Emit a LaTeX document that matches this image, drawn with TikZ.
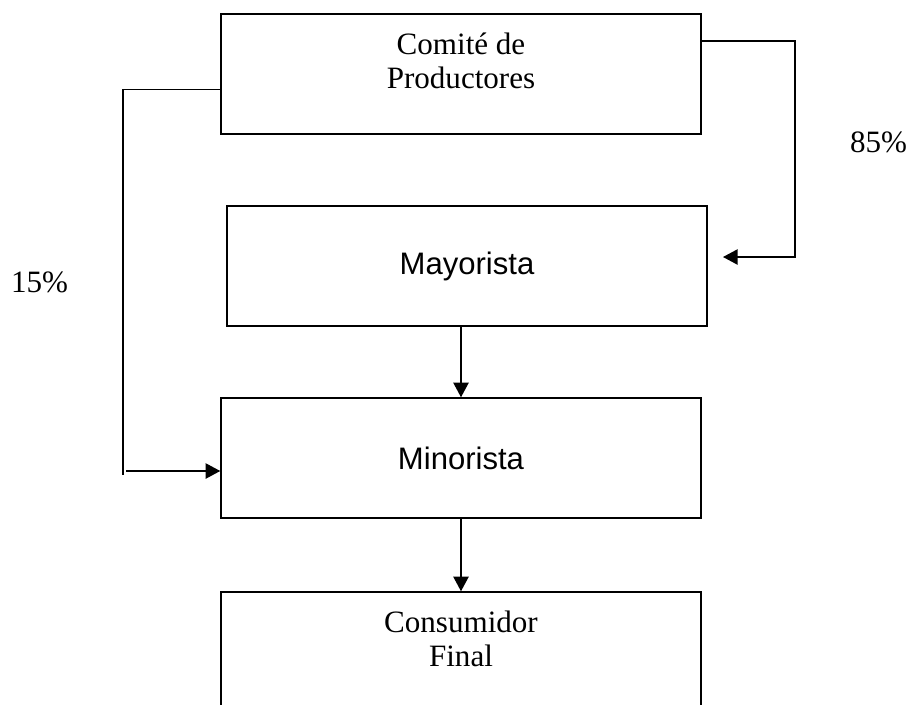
\documentclass[tikz,border=0pt]{standalone}
\usepackage{fontspec}
\setmainfont{Liberation Serif}
\setsansfont{Liberation Sans}
\usetikzlibrary{arrows.meta}
\tikzset{
  box/.style={draw,line width=1.1pt,minimum width=360pt,minimum height=90pt,inner sep=0pt},
  boxtxt/.style={font=\fontsize{23.3}{25.5}\selectfont,align=center},
  boxsans/.style={font=\sffamily\fontsize{23.3}{25.5}\selectfont},
}
\begin{document}
\begin{tikzpicture}[x=0.75pt,y=-0.75pt,>={Triangle[length=11pt,width=11.5pt]},line width=1.1pt]
%%
\useasboundingbox (0,0) rectangle (910,704);
\clip (0,0) rectangle (910,704);
\node (node_prod) at (461,74) [box,boxtxt,text height=27pt,text depth=6pt] {Comité de\\Productores};
  \node (node_mayor) at (467,266) [box,boxsans] {Mayorista};
  \node (node_minor) at (461,458) [box,boxsans] {Minorista};
  \node (node_cons) at (461,652) [box,boxtxt,text height=27pt,text depth=6pt] {Consumidor\\Final};
  \node (pct_85) at (878.5,142) [boxtxt] {85\%};
  \node (pct_15) at (39.5,282) [boxtxt] {15\%};
  \coordinate (left_top) at (123,89.5);
  \coordinate (left_end) at (123,475);
  \coordinate (left_foot) at (126,471);
  \coordinate (right_top) at (795,41);
  \coordinate (right_foot) at (795,257);
  \coordinate (right_tip) at (723,257);
  \draw (left_top -| node_prod.west) -- (left_top) -- (left_end);
  \draw [->] (left_foot) -- (left_foot -| node_minor.west);
  \draw [->] (right_top -| node_prod.east) -- (right_top) -- (right_foot) -- (right_tip);
  \draw [->] (node_minor.north |- node_mayor.south) -- (node_minor.north);
  \draw [->] (node_minor.south) -- (node_cons.north);
%
\end{tikzpicture}
\end{document}
